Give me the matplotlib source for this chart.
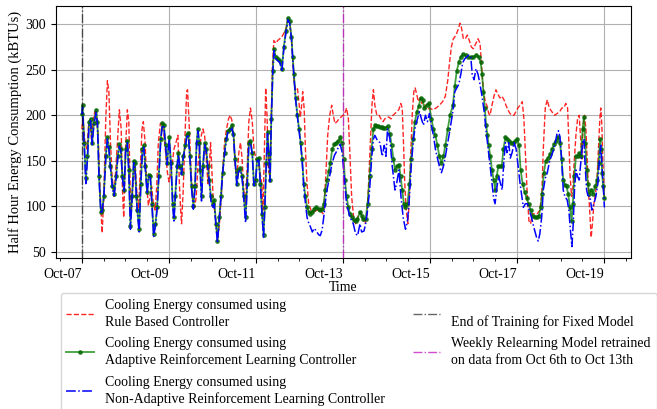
import numpy as np
import pandas as pd
import matplotlib
matplotlib.use('Agg')
import matplotlib.pyplot as plt
import matplotlib.dates as mdates

plt.rcParams['font.family'] = ['Liberation Serif', 'DejaVu Serif']
plt.rcParams['font.size'] = 10

start = pd.Timestamp('2019-10-07 00:00')

# hours after start (kBTUs)
rbc_h = [0, 0.6, 1.7, 2.8, 3.7, 4.6, 5.3, 6.2, 7.2, 8.1, 9.0, 10.1, 11.2, 12.1, 13.2, 14.1, 14.9, 15.8, 16.7, 17.8,
         18.7, 19.6, 20.7, 21.7, 22.4, 23.1, 24.0, 25.1, 25.9, 26.6, 27.3, 28.1, 28.8, 29.5, 30.5, 31.4, 32.3, 33.2,
         33.9, 34.9, 35.8, 36.7, 37.6, 38.5, 39.4, 40.4, 41.3, 42.2, 43.3, 44.2, 45.3, 46.2, 47.2, 48.1, 49.7, 50.8,
         51.9, 53.0, 53.8, 54.5, 55.0, 55.9, 56.9, 57.8, 58.3, 59.3, 60.2, 61.1, 62.2, 63.1, 64.0, 64.9, 65.9, 66.8,
         67.7, 68.6, 69.5, 70.3, 71.0, 71.8, 72.5, 73.2, 74.1, 75.0, 75.9, 76.9, 77.8, 78.7, 79.8, 80.9, 81.8, 82.7,
         83.7, 84.6, 85.5, 86.6, 87.5, 88.4, 89.3, 90.3, 91.2, 92.1, 93.0, 94.0, 94.9, 96.0, 97.1, 98.1, 99.2, 99.9,
         100.7, 101.4, 102.2, 102.9, 103.7, 104.4, 105.1, 105.9, 107.0, 108.0, 109.2, 110.3, 111.4, 112.5, 113.7,
         114.6, 115.6, 116.3, 117.0, 117.9, 118.9, 119.7, 120.5, 121.1, 121.8, 122.6, 123.3, 124.2, 125.1, 126.4,
         127.9, 129.7, 131.5, 133.0, 133.7, 134.7, 135.6, 136.7, 137.8, 138.7, 139.6, 140.7, 141.8, 142.9, 144.0,
         144.7, 146.0, 147.0, 147.9, 148.8, 149.9, 151.0, 152.1, 153.4, 154.7, 156.2, 157.1, 158.0, 159.1, 160.0,
         160.8, 161.6, 162.7, 163.9, 165.0, 166.1, 167.1, 168.2, 169.4, 170.5, 171.6, 172.7, 173.7, 174.8, 175.9,
         176.7, 177.4, 178.1, 178.9, 179.8, 180.5, 181.3, 182.2, 183.1, 183.8, 184.7, 185.6, 186.6, 187.5, 188.4,
         189.5, 190.6, 191.7, 193.6, 195.4, 197.2, 199.0, 200.5, 201.8, 202.7, 203.8, 204.9, 206.4, 207.5, 208.6,
         209.3, 210.4, 211.5, 212.6, 213.7, 214.8, 215.9, 217.4, 218.5, 219.6, 220.3, 221.0, 221.8, 222.5, 223.5,
         224.4, 225.1, 226.2, 227.3, 228.4, 229.5, 230.6, 231.7, 232.8, 233.9, 235.0, 236.1, 237.2, 238.3, 239.4,
         240.5, 241.6, 242.9, 243.8, 244.8, 245.7, 246.6, 247.5, 248.4, 249.7, 251.2, 252.6, 253.7, 254.5, 255.6,
         256.7, 257.8, 259.2, 260.7, 262.2, 263.6, 264.7, 265.8, 266.9, 267.9, 268.6, 269.3, 270.1, 270.8, 271.5,
         272.5, 273.4, 274.3, 275.0, 275.8, 276.5, 277.2, 278.0, 278.7, 279.4, 280.2, 280.9, 281.6, 282.4, 283.3,
         284.2, 284.9, 285.7, 286.2, 286.8, 287.3, 287.9, 288.2]
rbc_v = [185, 196, 170, 163, 189, 193, 174, 196, 204, 196, 178, 114, 71, 111, 196, 238, 226, 170, 133, 111,
         140, 170, 206, 185, 118, 88, 159, 206, 193, 125, 96, 122, 137, 144, 111, 99, 144, 185,
         193, 170, 122, 101, 111, 122, 103, 96, 122, 170, 191, 191, 178, 159, 137, 127, 144, 163,
         170, 178, 125, 96, 81, 118, 178, 226, 228, 185, 140, 111, 99, 111, 144, 163, 178, 185,
         178, 155, 125, 144, 170, 137, 107, 96, 81, 66, 81, 111, 144, 170, 185, 196, 200, 195,
         178, 144, 133, 159, 170, 152, 118, 103, 144, 193, 208, 193, 163, 152, 150, 140, 125, 96,
         163, 230, 196, 140, 133, 189, 253, 282, 279, 282, 284, 286, 290, 294, 307,
         303, 284, 260, 238, 228, 230, 215, 198, 208, 226, 208, 163, 125, 103, 96,
         94, 96, 96, 92, 103, 140, 178, 200, 211, 200, 191, 193, 196, 198, 200,
         200, 208, 196, 155, 111, 88, 81, 88, 94, 88, 81, 88, 118, 170, 211,
         228, 211, 200, 200, 196, 193, 196, 198, 198, 196, 200, 202, 204, 206, 213,
         208, 170, 125, 96, 81, 103, 152, 200, 226, 230, 223, 215, 219, 213, 215,
         208, 206, 208, 206, 208, 211, 215, 221, 238, 256, 275, 284, 288, 294, 301,
         297, 284, 284, 288, 282, 275, 273, 279, 284, 279, 260, 238, 223, 215, 210,
         202, 200, 211, 221, 228, 223, 219, 221, 217, 211, 206, 202, 200, 200, 204,
         208, 211, 215, 196, 152, 111, 84, 81, 92, 92, 92, 96, 114, 163, 208,
         217, 208, 204, 200, 202, 204, 208, 208, 213, 208, 170, 133, 111, 118, 148,
         178, 196, 200, 178, 152, 189, 200, 185, 152, 118, 92, 66, 81, 103, 114,
         133, 163, 196, 208, 189, 152, 122, 111]

arl_h = [0, 0.4, 1.3, 2.2, 3.1, 4.0, 4.8, 5.7, 6.6, 7.9, 8.6, 9.5, 10.5, 11.2, 12.1, 13.2, 14.1, 14.9, 15.8, 16.9,
         17.8, 18.9, 19.8, 20.7, 21.5, 22.4, 23.3, 24.2, 25.1, 25.9, 26.8, 27.7, 28.6, 29.2, 30.1, 30.6, 31.6, 32.5,
         33.4, 34.1, 35.0, 36.0, 36.9, 37.8, 38.7, 39.6, 40.6, 41.5, 42.4, 43.5, 44.4, 45.3, 46.2, 47.0, 48.2, 49.2,
         50.1, 50.8, 51.5, 52.5, 53.2, 54.1, 55.0, 55.9, 57.0, 57.9, 58.7, 59.6, 60.5, 61.5, 62.4, 63.3, 64.0, 64.8,
         65.3, 66.0, 66.8, 67.7, 68.6, 69.5, 70.3, 71.2, 72.1, 73.0, 74.0, 74.8, 75.8, 76.7, 77.6, 78.7, 79.6, 80.5,
         81.6, 82.7, 83.6, 84.5, 85.5, 86.4, 87.5, 88.4, 89.3, 90.3, 91.2, 92.1, 93.0, 94.0, 94.9, 95.8, 96.7, 97.6,
         98.5, 99.4, 100.2, 100.9, 101.7, 102.4, 103.1, 103.8, 104.5, 105.3, 106.0, 106.9, 108.0, 109.2, 110.3,
         111.4, 112.5, 113.7, 114.6, 115.6, 116.3, 117.0, 117.9, 118.9, 119.8, 120.7, 121.5, 122.4, 123.3, 124.2,
         125.1, 126.0, 127.1, 128.2, 129.3, 130.6, 131.5, 132.5, 133.4, 134.3, 135.2, 136.2, 137.1, 138.1, 139.3,
         140.4, 141.5, 142.5, 143.5, 144.4, 145.1, 146.0, 147.0, 147.9, 148.8, 149.9, 151.0, 152.0, 153.4, 154.3,
         155.2, 156.5, 157.6, 158.7, 159.8, 160.8, 161.6, 162.5, 163.5, 164.4, 165.3, 166.2, 167.1, 168.6, 169.9,
         170.8, 171.8, 172.7, 173.6, 174.9, 175.8, 176.7, 177.6, 178.5, 179.6, 180.7, 181.6, 182.6, 183.7, 184.8,
         185.8, 186.9, 187.9, 188.8, 190.1, 191.4, 192.8, 193.9, 195.0, 196.1, 197.2, 198.3, 199.4, 200.5, 201.8,
         203.1, 204.6, 205.7, 206.8, 207.9, 209.0, 210.1, 211.6, 213.0, 214.5, 216.0, 217.4, 218.9, 220.0, 220.7,
         221.5, 222.2, 223.0, 223.7, 224.4, 225.3, 226.2, 227.1, 228.1, 228.8, 229.7, 230.6, 231.6, 232.5, 233.6,
         234.7, 235.8, 236.9, 238.0, 239.1, 240.2, 241.1, 242.0, 243.1, 244.2, 245.3, 246.4, 247.5, 248.6, 249.7,
         250.8, 252.1, 253.0, 253.9, 254.8, 255.9, 257.0, 258.2, 259.3, 260.4, 261.4, 262.5, 263.7, 264.6, 265.5,
         266.4, 267.3, 268.2, 269.2, 270.1, 270.8, 271.6, 272.5, 273.4, 274.3, 275.2, 276.2, 276.9, 277.6, 278.4,
         279.1, 279.8, 280.9, 282.0, 283.1, 284.2, 285.1, 285.8, 286.4, 286.9, 287.5, 288.2]
arl_v = [201, 211, 170, 131, 155, 193, 196, 170, 191, 206, 193, 133, 94, 96, 111, 155, 176, 165, 144, 122,
         114, 133, 155, 168, 163, 133, 118, 163, 172, 140, 79, 111, 150, 148, 111, 96, 75, 125,
         163, 167, 144, 116, 135, 133, 103, 70, 81, 99, 133, 174, 191, 189, 167, 148, 176, 148,
         103, 88, 111, 144, 159, 144, 137, 155, 167, 178, 181, 155, 122, 101, 122, 170, 185, 170,
         140, 111, 144, 170, 163, 144, 129, 111, 103, 107, 81, 62, 88, 111, 137, 159, 174, 183,
         185, 189, 180, 152, 125, 140, 142, 133, 111, 88, 125, 170, 172, 159, 125, 129, 152, 153,
         125, 92, 69, 99, 148, 182, 159, 129, 196, 249, 273, 264, 262, 260, 251,
         275, 292, 307, 303, 286, 264, 245, 219, 200, 185, 170, 152, 125, 111, 99,
         94, 92, 94, 97, 99, 97, 96, 97, 103, 118, 129, 139, 148, 163, 168,
         170, 172, 176, 170, 152, 129, 111, 99, 92, 88, 85, 84, 86, 94, 90,
         86, 86, 103, 133, 163, 185, 189, 188, 188, 187, 187, 186, 186, 188, 180,
         167, 152, 140, 144, 146, 133, 118, 103, 99, 103, 125, 152, 174, 193, 204,
         210, 219, 217, 208, 211, 213, 196, 185, 178, 167, 155, 148, 155, 167, 185,
         200, 211, 232, 249, 258, 264, 267, 266, 264, 264, 264, 266, 264, 258, 245,
         226, 208, 189, 178, 167, 155, 140, 129, 118, 133, 144, 144, 144, 163, 176,
         174, 172, 170, 170, 172, 174, 167, 140, 125, 116, 109, 103, 96, 90, 88,
         88, 90, 99, 114, 137, 150, 153, 157, 163, 168, 172, 176, 170, 152, 129,
         124, 122, 114, 99, 84, 103, 133, 155, 155, 159, 155, 185, 198, 170, 140,
         125, 114, 118, 114, 122, 129, 148, 174, 163, 137, 122, 109]

narl_h = [0, 0.4, 1.3, 2.2, 3.1, 4.0, 4.8, 5.7, 6.6, 7.9, 8.6, 9.5, 10.5, 11.2, 12.1, 13.2, 14.1, 14.9, 15.8, 16.9,
          17.8, 18.9, 19.8, 20.7, 21.5, 22.4, 23.3, 24.2, 25.1, 25.9, 26.8, 27.7, 28.6, 29.2, 30.1, 30.6, 31.6, 32.5,
          33.4, 34.1, 35.0, 36.0, 36.9, 37.8, 38.7, 39.6, 40.6, 41.5, 42.4, 43.5, 44.4, 45.3, 46.2, 47.0, 48.2, 49.2,
          50.1, 50.8, 51.5, 52.5, 53.2, 54.1, 55.0, 55.9, 57.0, 57.9, 58.7, 59.6, 60.5, 61.5, 62.4, 63.3, 64.0, 64.8,
          65.3, 66.0, 66.8, 67.7, 68.6, 69.5, 70.3, 71.2, 72.1, 73.0, 74.0, 74.8, 75.8, 76.7, 77.6, 78.7, 79.6, 80.5,
          81.6, 82.7, 83.6, 84.5, 85.5, 86.4, 87.5, 88.4, 89.3, 90.3, 91.2, 92.1, 93.0, 94.0, 94.9, 95.8, 96.7, 97.6,
          98.5, 99.4, 100.2, 100.9, 101.7, 102.4, 103.1, 103.8, 104.5, 105.3, 106.0, 106.9, 108.0, 109.2, 110.3,
          111.4, 112.5, 113.7, 114.6, 115.6, 116.3, 117.0, 117.9, 118.9, 119.8, 120.7, 121.5, 122.4, 123.3, 124.2,
          125.1, 126.0, 127.1, 128.2, 129.3, 130.6, 131.5, 132.5, 133.4, 134.3, 135.2, 136.2, 137.1, 138.1, 139.3,
          140.4, 141.5, 142.5, 143.5, 144.4, 146.0, 147.9, 149.7, 151.0, 152.1, 153.4, 154.3, 155.6, 156.5, 157.6,
          158.7, 159.8, 160.8, 161.6, 163.1, 164.4, 165.7, 166.8, 167.7, 168.6, 169.9, 171.2, 172.7, 173.6, 174.9,
          176.0, 177.2, 178.5, 179.6, 180.7, 181.8, 182.9, 184.0, 185.1, 186.2, 187.3, 188.4, 189.5, 190.6, 191.7,
          192.8, 193.9, 195.0, 196.1, 197.2, 198.3, 199.4, 200.5, 201.8, 203.1, 204.6, 205.7, 206.8, 207.9, 209.0,
          210.1, 211.2, 212.3, 213.4, 214.5, 215.3, 216.3, 217.4, 218.5, 219.6, 220.7, 221.9, 223.0, 224.1, 225.2,
          226.2, 227.1, 227.9, 229.0, 229.9, 230.9, 231.8, 232.7, 233.6, 234.5, 235.4, 236.3, 237.3, 238.4, 239.5,
          240.4, 241.7, 243.5, 244.6, 245.7, 246.8, 248.0, 249.3, 250.8, 251.7, 252.6, 253.6, 254.5, 255.6, 256.7,
          257.8, 258.9, 260.0, 261.1, 262.2, 262.9, 263.7, 264.6, 265.5, 266.4, 267.7, 268.6, 269.5, 270.3, 271.0,
          271.7, 272.5, 273.4, 274.3, 275.2, 276.2, 276.9, 277.6, 278.4, 279.1, 280.2, 281.3, 282.4, 283.5, 284.6,
          285.5, 286.2, 286.9, 287.7, 288.2]
narl_v = [201, 209, 168, 125, 152, 191, 194, 168, 189, 204, 190, 130, 92, 95, 109, 153, 174, 163, 142, 120,
          112, 131, 153, 166, 161, 131, 116, 161, 170, 138, 75, 109, 148, 146, 109, 94, 72, 123,
          161, 165, 142, 114, 133, 131, 101, 67, 79, 97, 131, 172, 189, 187, 165, 146, 174, 146,
          101, 84, 109, 142, 157, 142, 135, 153, 165, 176, 179, 153, 120, 97, 120, 168, 183, 168,
          138, 106, 142, 168, 161, 142, 127, 106, 98, 103, 78, 60, 86, 109, 135, 157, 172, 181,
          183, 187, 178, 150, 123, 138, 140, 131, 109, 82, 123, 168, 170, 157, 123, 127, 150, 151,
          123, 90, 66, 97, 146, 180, 157, 127, 194, 247, 271, 262, 260, 258, 248,
          273, 290, 305, 301, 284, 262, 243, 217, 198, 183, 168, 150, 122, 104, 88,
          82, 78, 72, 76, 73, 69, 68, 74, 88, 105, 118, 128, 138, 148, 156,
          160, 165, 168, 160, 140, 103, 88, 81, 70, 68, 81, 72, 73, 81, 96,
          118, 152, 174, 178, 172, 170, 155, 167, 155, 185, 174, 144, 118, 125, 140,
          111, 88, 75, 84, 111, 148, 174, 189, 196, 204, 196, 189, 200, 193, 202,
          189, 178, 163, 153, 144, 137, 144, 155, 170, 185, 204, 226, 230, 234, 245,
          258, 262, 264, 266, 264, 245, 239, 251, 245, 234, 221, 204, 182, 163, 144,
          125, 109, 103, 122, 133, 125, 118, 148, 170, 159, 170, 153, 159, 170, 163,
          148, 125, 99, 103, 103, 96, 88, 77, 66, 62, 70, 88, 118, 131, 137,
          148, 155, 161, 170, 181, 183, 176, 152, 118, 111, 107, 96, 73, 56, 81,
          118, 140, 133, 129, 148, 170, 174, 144, 118, 112, 111, 96, 103, 111, 125,
          152, 167, 144, 118, 99]

end_training_h = 0
relearn_h = 144

labels = ['Cooling Energy consumed using\nRule Based Controller',
          'Cooling Energy consumed using\nAdaptive Reinforcement Learning Controller',
          'Cooling Energy consumed using\nNon-Adaptive Reinforcement Learning Controller',
          '\nEnd of Training for Fixed Model',
          'Weekly Relearning Model retrained\non data from Oct 6th to Oct 13th']


def to_time(hours):
    return start + pd.to_timedelta(np.array(hours), unit='h')


fig = plt.figure(figsize=(6.57, 4.09), dpi=100)
ax = fig.add_axes([0.0848, 0.3692, 0.8749, 0.6154])

ax.plot(to_time(rbc_h), rbc_v, color='red', linestyle='--', linewidth=1, alpha=0.85, label=labels[0])
ax.plot(to_time(arl_h), arl_v, color='green', linestyle='-', linewidth=1.3, alpha=0.75,
        marker='o', markersize=2.4, markerfacecolor='darkgreen', markeredgecolor='darkgreen', label=labels[1])
ax.plot(to_time(narl_h), narl_v, color='blue', linestyle='-.', linewidth=1.1, label=labels[2])
ax.axvline(start + pd.Timedelta(hours=end_training_h), color='black', linestyle='-.', linewidth=1,
           alpha=0.6, label=labels[3])
ax.axvline(start + pd.Timedelta(hours=relearn_h), color='m', linestyle='-.', linewidth=1,
           alpha=0.7, label=labels[4])

ax.xaxis.set_major_locator(mdates.DayLocator(interval=2))
ax.xaxis.set_major_formatter(mdates.DateFormatter('%b-%d'))
ax.xaxis.set_minor_locator(mdates.HourLocator(byhour=[0, 12]))
for lbl in ax.get_xticklabels():
    lbl.set_ha('right')
ax.grid(True, which='major', color='#b0b0b0', linewidth=0.8)
ax.set_xlabel('Time', labelpad=0)
ax.set_ylabel('Half Hour Energy Consumption (kBTUs)', fontsize=10.5, labelpad=2)
ax.tick_params(axis='both', labelsize=10)

leg = ax.legend(loc='upper center', bbox_to_anchor=(0.5457, 0.2836), bbox_transform=fig.transFigure,
                ncol=2, fontsize=10, frameon=True, labelspacing=0.6, borderaxespad=0)
for t in leg.get_texts():
    t.set_linespacing(1.35)

fig.savefig('out.png', dpi=100)
